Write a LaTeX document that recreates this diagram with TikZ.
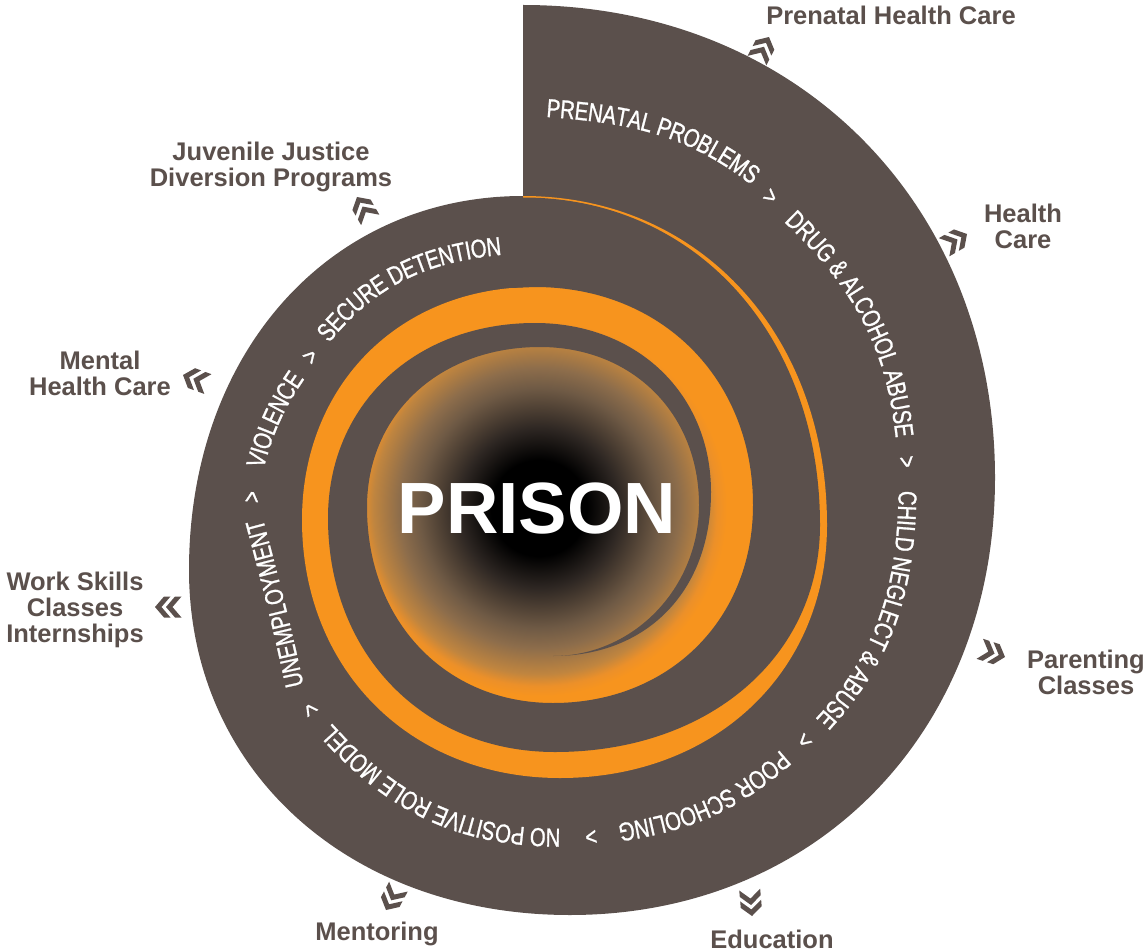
\documentclass[tikz,border=0pt]{standalone}
\usepackage{fontspec}
\usetikzlibrary{decorations.text,calc}
\newfontfamily\lblfont{Liberation Sans}
\newfontfamily\spfont{Liberation Sans}[FakeStretch=0.78,FakeBold=1]
\definecolor{spbrown}{HTML}{5B504C}
\definecolor{sporange}{HTML}{F7941E}
\definecolor{ga}{HTML}{2E2723}
\definecolor{gb}{HTML}{6F5A45}
\definecolor{gc}{HTML}{8D6D4B}
\definecolor{gd}{HTML}{C0853F}
\definecolor{ge}{HTML}{EC9029}
\pgfdeclareradialshading{prisonshade}{\pgfpoint{0bp}{0bp}}{color(0bp)=(black); color(6bp)=(black); color(10bp)=(ga); color(15bp)=(gb); color(17.5bp)=(gc); color(20.75bp)=(gd); color(22.25bp)=(ge); color(23.5bp)=(sporange); color(50bp)=(sporange)}
% quarter arcs: from a point with horizontal tangent (qh) or vertical tangent (qv)
\newcommand\qhk[3]{.. controls ($(#2)!#1!(#2 -| #3)$) and ($(#3)!#1!(#2 -| #3)$) .. (#3)}
\newcommand\qvk[3]{.. controls ($(#2)!#1!(#3 -| #2)$) and ($(#3)!#1!(#3 -| #2)$) .. (#3)}
\newcommand\qh[2]{\qhk{0.58}{#1}{#2}}
\newcommand\qv[2]{\qvk{0.58}{#1}{#2}}
% #1 text, #2 start, #3 out angle, #4 in angle, #5 end
\newcommand\sptext[5]{\path[decorate,decoration={text along path,text align=center,raise=-9.3pt,text color=white,text={|\spfont\fontsize{26}{26}\selectfont|#1}}] #2 to[out=#3,in=#4] #5;}
\begin{document}
\begin{tikzpicture}[x=1pt,y=-1pt,
  lbl/.style={font=\lblfont\bfseries\fontsize{25.5}{26}\selectfont, text=spbrown, align=center, inner sep=0pt},
  sepmark/.style={font=\spfont\fontsize{25}{25}\selectfont, text=white, inner sep=0pt},
  chev/.pic={
    \fill[spbrown] (0,0) -- (-9,-10.5) -- (-15.5,-10.5) -- (-6.5,0) -- (-15.5,10.5) -- (-9,10.5) -- cycle;
    \fill[spbrown] (-11,0) -- (-20,-10.5) -- (-26.5,-10.5) -- (-17.5,0) -- (-26.5,10.5) -- (-20,10.5) -- cycle;
  }]
\fill[white] (0,0) rectangle (1148,952);
\useasboundingbox (0,0) rectangle (1148,952);
% key points of the spiral (image pixel coordinates)
\coordinate (b0) at (523,5);
\coordinate (b1) at (995,478);
\coordinate (b2) at (570,915);
\coordinate (b3) at (189,570);
\coordinate (b4) at (523,196);
\coordinate (o2) at (827,525);
\coordinate (o3) at (560,778);
\coordinate (o4) at (302,520);
\coordinate (o5) at (535,287);
\coordinate (o6) at (753,505);
\coordinate (o7) at (553,703);
\coordinate (o8) at (367,507);
\coordinate (o9) at (540,347);
\coordinate (o10) at (699,505);
\coordinate (i1) at (523,197.5);
\coordinate (i2) at (820,525);
\coordinate (i3) at (555,752);
\coordinate (i4) at (328,518);
\coordinate (i5) at (535,323);
\coordinate (i6) at (711,492);
\coordinate (tip) at (553,656);
\coordinate (j1) at (510,288);
\coordinate (j2) at (510,202);
% outer brown band
\fill[spbrown] (b0) \qh{b0}{b1} \qv{b1}{b2} \qh{b2}{b3} \qv{b3}{b4} -- cycle;
% orange arm
\fill[sporange] (b4) \qh{b4}{o2} \qv{o2}{o3} \qh{o3}{o4} \qv{o4}{o5} -- cycle;
% prison core
\shade[shading=prisonshade] (539,508) circle[radius=200pt];
% inner brown band
\fill[spbrown] (i1) \qh{i1}{i2} \qv{i2}{i3} \qh{i3}{i4} \qv{i4}{i5} \qh{i5}{i6} \qvk{0.6}{i6}{tip}
  \qhk{0.55}{tip}{o10} \qv{o10}{o9} \qh{o9}{o8} \qv{o8}{o7} \qh{o7}{o6} \qv{o6}{o5} -- (j1) -- (j2) -- cycle;
% PRISON
\node[font=\lblfont\bfseries\fontsize{72.6}{73}\selectfont, text=white, inner sep=0pt] (prison) at (537,509) {PRISON};
% spiral texts
\sptext{PRENATAL PROBLEMS}{(538,107)}{-4}{141}{(764,183)}
\sptext{DRUG {\&} ALCOHOL ABUSE}{(783,208)}{-43}{95}{(906,447)}
\sptext{CHILD NEGLECT {\&} ABUSE}{(908,480)}{-90}{46}{(815,733)}
\sptext{POOR SCHOOLING}{(792,752)}{-138}{8}{(612,834)}
\sptext{NO POSITIVE ROLE MODEL}{(568,838)}{-179}{-49}{(320,724)}
\sptext{UNEMPLOYMENT}{(296,694)}{102}{-75}{(252,514)}
\sptext{VIOLENCE}{(253,472)}{75}{-125}{(300,369)}
\sptext{SECURE DETENTION}{(318,342)}{52}{-175}{(507,245)}
% separators
\node[sepmark, rotate=-38] (s1) at (770,197) {>};
\node[sepmark, rotate=-82] (s2) at (906,462) {>};
\node[sepmark, rotate=-138] (s3) at (804,740) {>};
\node[sepmark, rotate=-172] (s4) at (591,836) {>};
\node[sepmark, rotate=125] (s5) at (311,709) {>};
\node[sepmark, rotate=85] (s6) at (253,497) {>};
\node[sepmark, rotate=48] (s7) at (311,357) {>};
% chevrons
\pic[rotate=63] at (769,37) {chev};
\pic[rotate=30] at (967,234) {chev};
\pic[rotate=-18] at (1005,657) {chev};
\pic[rotate=-85] at (752,916) {chev};
\pic[rotate=-118] at (386,910) {chev};
\pic[rotate=180] at (155,607) {chev};
\pic[rotate=160] at (183,375) {chev};
\pic[rotate=120] at (357,197) {chev};
% labels
\node[lbl] (lPre) at (891,15) {Prenatal Health Care};
\node[lbl] (lHealth) at (1023,226) {Health\\Care};
\node[lbl] (lParent) at (1086,672) {Parenting\\Classes};
\node[lbl] (lEdu) at (772,939) {Education};
\node[lbl] (lMent) at (377,934) {Mentoring};
\node[lbl] (lWork) at (75,610) {Work Skills\\Classes\\Internships};
\node[lbl] (lMental) at (100,373) {Mental\\Health Care};
\node[lbl] (lJuv) at (271,167) {Juvenile Justice\\Diversion Programs};
\end{tikzpicture}
\end{document}
